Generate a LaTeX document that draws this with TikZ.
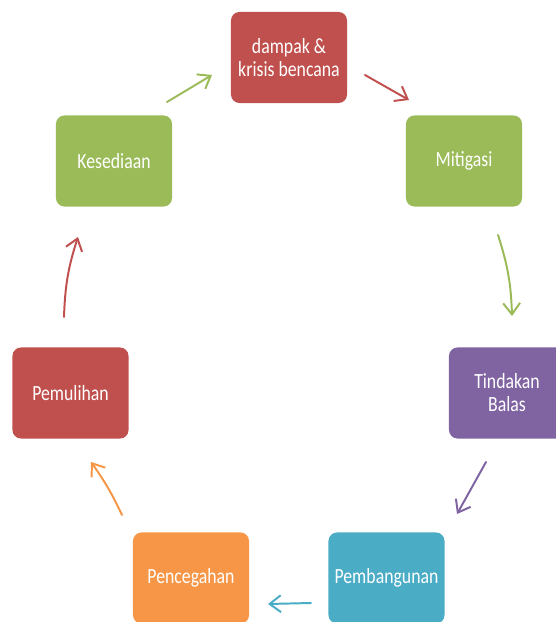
\documentclass[tikz,border=0pt]{standalone}
\usepackage{fontspec}
\newfontfamily\phasefont[FakeStretch=0.82]{Carlito}
\usetikzlibrary{arrows.meta}
\definecolor{phred}{HTML}{C0504D}
\definecolor{phgreen}{HTML}{9BBB59}
\definecolor{phpurple}{HTML}{8064A2}
\definecolor{phcyan}{HTML}{4BACC6}
\definecolor{phorange}{HTML}{F79646}
\tikzset{
  phase/.style={rounded corners=6pt,minimum width=2.9cm,minimum height=2.275cm,inner sep=0pt,
    text=white,align=center,font=\phasefont\fontsize{15.4}{16.3}\selectfont},
  cycarrow/.style={line width=1.4pt,line cap=round,-{Straight Barb[length=8pt,width=12pt]}}
}
\begin{document}
\begin{tikzpicture}[x=0.025cm,y=-0.025cm]
      \useasboundingbox(0,0)rectangle(555,622);
      \node[phase,fill=phred](dampak)at(289,57.5){dampak \&\\krisis bencana};
      \node[phase,fill=phgreen](mitigasi)at(464,161){Mitigasi};
      \node[phase,fill=phpurple](tindakan)at(507,393){Tindakan\\Balas};
      \node[phase,fill=phcyan](pembangunan)at(386.5,578){Pembangunan};
      \node[phase,fill=phorange](pencegahan)at(191,578){Pencegahan};
      \node[phase,fill=phred](pemulihan)at(70.5,393){Pemulihan};
      \node[phase,fill=phgreen](kesediaan)at(114,161){Kesediaan};
      % arrow ends
      \coordinate(a1)at(167,102);\coordinate(b1)at(212,75);
      \coordinate(a2)at(365,75);\coordinate(b2)at(409,100);
      \coordinate(a3)at(498,235);\coordinate(b3)at(512,316);
      \coordinate(a4)at(486,462);\coordinate(b4)at(457,514);
      \coordinate(a5)at(311,603);\coordinate(b5)at(268,604);
      \coordinate(a6)at(122,515);\coordinate(b6)at(91,462);
      \coordinate(a7)at(64,317);\coordinate(b7)at(78,237);
      \foreach \S/\T/\C/\B in{a1/b1/phgreen/0, a2/b2/phred/0, a3/b3/phgreen/8, a4/b4/phpurple/0,
                              a5/b5/phcyan/0, a6/b6/phorange/-5, a7/b7/phred/8}{
        \draw[cycarrow,\C](\S)to[bend left=\B](\T);
      }
    \end{tikzpicture}
\end{document}
